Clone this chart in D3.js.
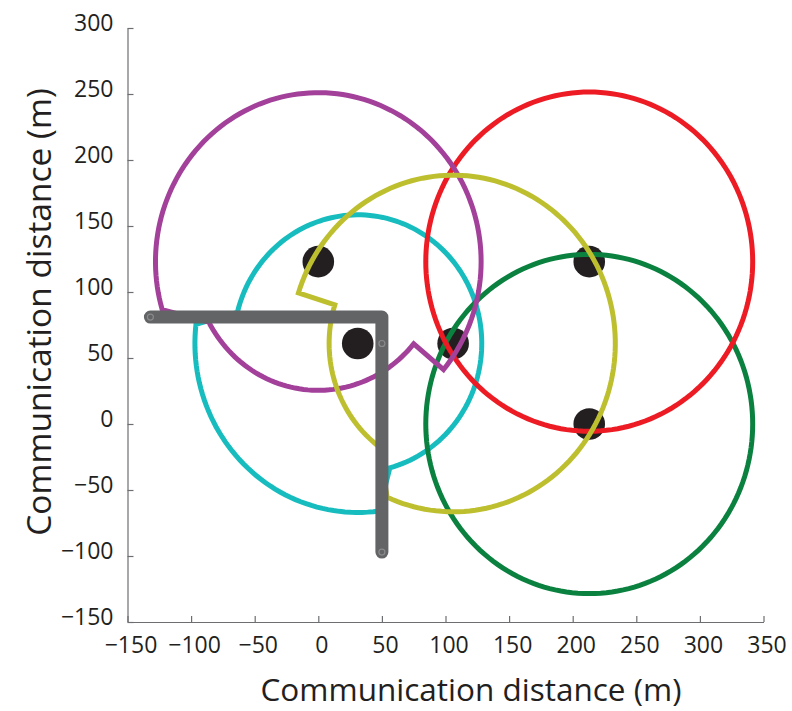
<!DOCTYPE html>
<html>
<head>
<meta charset="utf-8">
<script src="https://cdn.jsdelivr.net/npm/d3@7"></script>
<style>
  html, body { margin: 0; padding: 0; background: #ffffff; }
  svg { display: block; }
  .tick text { font-family: "Open Sans", "Noto Sans", sans-serif; fill: #231f20; }
</style>
</head>
<body>
<svg id="chart" width="792" height="711"></svg>
<script>
// ---------------- data ----------------
const xTicks = [-150, -100, -50, 0, 50, 100, 150, 200, 250, 300, 350];
const yTicks = [-150, -100, -50, 0, 50, 100, 150, 200, 250, 300];
const xLabel = "Communication distance (m)";
const yLabel = "Communication distance (m)";

// sensor nodes (black dots)
const nodeX = [0, 31, 106, 213, 213];
const nodeY = [123, 61, 61, 123, 0];

// communication ranges: node index, colour, and boundary arcs [startAngle°, endAngle°, radius]
const rangeNode   = [1, 4, 3, 0, 2];
const rangeColor  = ["#17bcbf", "#0b8140", "#ed1c24", "#a2409a", "#bebf2f"];
const rangeArcs = [
  [[-75, 166, 97.5], [173.5, 277.5, 128]],      // cyan  (31,61)
  [[0, 360, 128.5]],                            // green (213,0)
  [[0, 360, 128.5]],                            // red   (213,123)
  [[-39.7, 196.5, 128], [208, 320.3, 97.5]],    // purple (0,123)
  [[-114, 162.5, 127.5], [162.5, 233, 97.5]]    // yellow (106,61)
];

// wall (obstacle)
const wallX = [-132, 50, 50];
const wallY = [81, 81, -97];
// faint marks printed on the wall
const wallMarkX = [-132, 50, 50];
const wallMarkY = [81, 61, -97];

// ---------------- drawing ----------------
const svg = d3.select("#chart");
const x = d3.scaleLinear().domain([-150, 350]).range([127.5, 763.5]);
const y = d3.scaleLinear().domain([-150, 300]).range([622, 28]);

const fmt = d => d < 0 ? "\u2212" + Math.abs(d) : String(d);
const xAxis = d3.axisBottom(x).tickValues(xTicks).tickSizeInner(-6).tickSizeOuter(0).tickPadding(15).tickFormat(fmt);
const yAxis = d3.axisLeft(y).tickValues(yTicks).tickSizeInner(-6).tickSizeOuter(0).tickPadding(14).tickFormat(fmt);

const gx = svg.append("g").attr("transform", `translate(0,${y(-150)})`).call(xAxis);
const gy = svg.append("g").attr("transform", `translate(${x(-150)},0)`).call(yAxis);
[gx, gy].forEach(g => {
  g.select(".domain").attr("stroke", "#6d6e71").attr("stroke-width", 1.2);
  g.selectAll(".tick line").attr("stroke", "#6d6e71").attr("stroke-width", 1.2);
  g.selectAll(".tick text").attr("font-size", 23);
});
gx.selectAll(".tick text").attr("dx", 3);
gy.selectAll(".tick text").attr("dy", "0.12em");

svg.append("text")
  .attr("x", 471).attr("y", 701)
  .attr("text-anchor", "middle")
  .attr("font-family", "'Open Sans', 'Noto Sans', sans-serif")
  .attr("font-size", 31.5).attr("fill", "#231f20")
  .text(xLabel);

svg.append("text")
  .attr("transform", "translate(51,312) rotate(-90)")
  .attr("text-anchor", "middle")
  .attr("font-family", "'Open Sans', 'Noto Sans', sans-serif")
  .attr("font-size", 33.5).attr("fill", "#231f20")
  .text(yLabel);

// nodes (under the range boundaries)
svg.append("g").selectAll("circle")
  .data(nodeX.map((d, i) => ({ x: d, y: nodeY[i] })))
  .join("circle")
  .attr("cx", d => x(d.x)).attr("cy", d => y(d.y)).attr("r", 15.8)
  .attr("fill", "#231f20");

// range boundaries
const line = d3.line().x(d => x(d[0])).y(d => y(d[1]));
function boundary(k) {
  const cx = nodeX[rangeNode[k]], cy = nodeY[rangeNode[k]];
  const pts = [];
  rangeArcs[k].forEach(([a0, a1, r]) => {
    const n = Math.max(2, Math.ceil(Math.abs(a1 - a0) / 2));
    for (let i = 0; i <= n; i++) {
      const a = (a0 + (a1 - a0) * i / n) * Math.PI / 180;
      pts.push([cx + r * Math.cos(a), cy + r * Math.sin(a)]);
    }
  });
  return line(pts) + "Z";
}
svg.append("g").selectAll("path")
  .data(rangeColor)
  .join("path")
  .attr("d", (c, k) => boundary(k))
  .attr("fill", "none")
  .attr("stroke", c => c)
  .attr("stroke-width", 5)
  .attr("stroke-linejoin", "miter");

// wall
svg.append("path")
  .attr("d", line(wallX.map((d, i) => [d, wallY[i]])))
  .attr("fill", "none")
  .attr("stroke", "#636466")
  .attr("stroke-width", 13)
  .attr("stroke-linejoin", "round")
  .attr("stroke-linecap", "round");

svg.append("g").selectAll("circle")
  .data(wallMarkX.map((d, i) => ({ x: d, y: wallMarkY[i] })))
  .join("circle")
  .attr("cx", d => x(d.x)).attr("cy", d => y(d.y)).attr("r", 3)
  .attr("fill", "none").attr("stroke", "#8a8a8c").attr("stroke-width", 1.2);
</script>
</body>
</html>
